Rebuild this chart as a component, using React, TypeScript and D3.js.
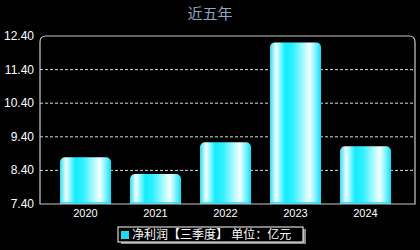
import React from "react";
import * as d3 from "d3";

const categories = ["2020", "2021", "2022", "2023", "2024"];
const values = [8.79, 8.29, 9.24, 12.21, 9.12];
const yTicks = [7.4, 8.4, 9.4, 10.4, 11.4, 12.4];
const title = "近五年";
const legendLabel = "净利润【三季度】 单位：亿元";

const W = 420, H = 250;
const L = 40, R = 415, T = 36, B = 204;

export default function App() {
  const y = d3.scaleLinear().domain([7.4, 12.4]).range([B, T]);
  const x = d3.scaleBand().domain(categories).range([50.5, 400.5]).paddingInner(0.27).paddingOuter(0.135);
  const bw = x.bandwidth();
  const r = 5;
  const barPath = (x0: number, y0: number, w: number, h: number) => {
    const p = d3.path();
    p.moveTo(x0, y0 + h);
    p.lineTo(x0, y0 + r);
    p.arcTo(x0, y0, x0 + r, y0, r);
    p.lineTo(x0 + w - r, y0);
    p.arcTo(x0 + w, y0, x0 + w, y0 + r, r);
    p.lineTo(x0 + w, y0 + h);
    p.closePath();
    return p.toString();
  };
  const rr = 6;
  const frame = `M${L},${B} L${L},${T + rr} Q${L},${T} ${L + rr},${T} L${R - rr},${T} Q${R},${T} ${R},${T + rr} L${R},${B} Z`;
  const font = "Arial, 'Liberation Sans', 'Noto Sans CJK SC', sans-serif";
  return (
    <svg width={W} height={H} style={{ position: "absolute", left: 0, top: 0, background: "#000" }}>
      <defs>
        <linearGradient id="barG" x1="0" x2="1" y1="0" y2="0">
          <stop offset="0" stopColor="#30dcef" />
          <stop offset="0.12" stopColor="#f2ffff" />
          <stop offset="0.3" stopColor="#10ecff" />
          <stop offset="0.45" stopColor="#30f0ff" />
          <stop offset="0.78" stopColor="#f4ffff" />
          <stop offset="0.92" stopColor="#60f0ff" />
          <stop offset="1" stopColor="#18d8ee" />
        </linearGradient>
      </defs>
      <rect x={0} y={0} width={W} height={H} fill="#000" />
      <text x={210} y={19} textAnchor="middle" fill="#8ea6c6" fontSize={15} fontFamily={font}>{title}</text>
      {yTicks.slice(1, -1).map((t) => (
        <line key={t} x1={L} x2={R} y1={y(t)} y2={y(t)} stroke="#c8dde2" strokeDasharray="3,2" strokeWidth={1} />
      ))}
      {categories.map((c, i) => {
        const x0 = x(c)!;
        const y0 = y(values[i]);
        return (
          <g key={c}>
            <path d={barPath(x0, y0, bw, B - y0)} fill="url(#barG)" />
            <line x1={x0} x2={x0 + bw} y1={B - 1} y2={B - 1} stroke="#20d8ee" strokeWidth={1.5} />
          </g>
        );
      })}
      <path d={frame} fill="none" stroke="#c8c8c8" strokeWidth={1.2} />
      {yTicks.map((t) => (
        <text key={t} x={34} y={y(t) + 4} textAnchor="end" fill="#fff" fontSize={12} fontFamily={font}>{t.toFixed(2)}</text>
      ))}
      {categories.map((c) => (
        <text key={c} x={x(c)! + bw / 2} y={217} textAnchor="middle" fill="#fff" fontSize={11} fontFamily={font}>{c}</text>
      ))}
      <rect x={121} y={229} width={185} height={15} fill="#8a8a8a" />
      <rect x={118} y={227} width={185} height={15} fill="#000" stroke="#fff" strokeWidth={1} />
      <rect x={121} y={231} width={8} height={8} fill="#20d8f0" />
      <text x={132} y={239} fill="#fff" fontSize={12} fontFamily={font}>{legendLabel}</text>
    </svg>
  );
}
